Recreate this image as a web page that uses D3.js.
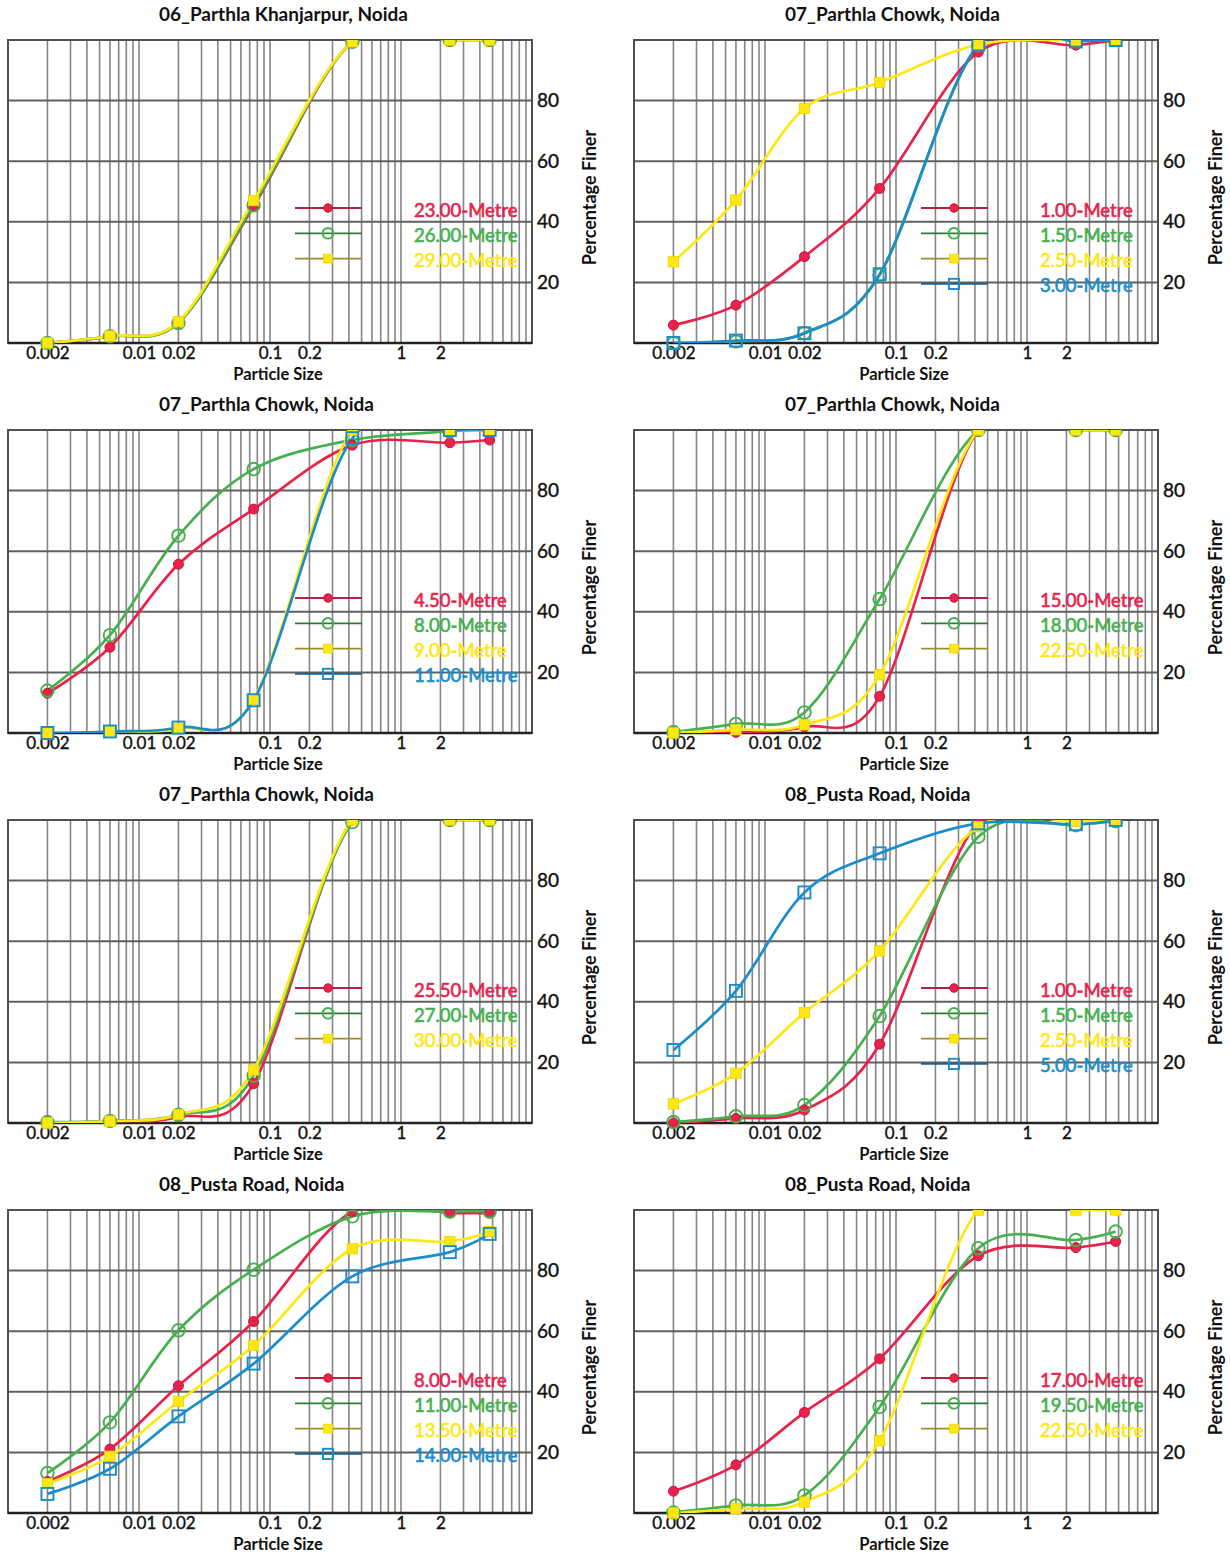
<!DOCTYPE html>
<html>
<head>
<meta charset="utf-8">
<script src="https://cdn.jsdelivr.net/npm/d3@7"></script>
<style>
  html, body { margin: 0; padding: 0; background: #fff; }
  svg { display: block; font-family: Lato, "Open Sans", sans-serif; }
</style>
</head>
<body>
<svg id="chart" width="1230" height="1554"></svg>
<script>
// Sieve / hydrometer particle sizes (mm)
const particleSizes = [0.002, 0.006, 0.02, 0.075, 0.425, 2.36, 4.75];

const xTickValues = [0.002, 0.01, 0.02, 0.1, 0.2, 1, 2];
const yTickValues = [20, 40, 60, 80];

const panelTitles = [
  "06_Parthla Khanjarpur, Noida",
  "07_Parthla Chowk, Noida",
  "07_Parthla Chowk, Noida",
  "07_Parthla Chowk, Noida",
  "07_Parthla Chowk, Noida",
  "08_Pusta Road, Noida",
  "08_Pusta Road, Noida",
  "08_Pusta Road, Noida"
];

const panelDepths = [
  ["23.00-Metre", "26.00-Metre", "29.00-Metre"],
  ["1.00-Metre", "1.50-Metre", "2.50-Metre", "3.00-Metre"],
  ["4.50-Metre", "8.00-Metre", "9.00-Metre", "11.00-Metre"],
  ["15.00-Metre", "18.00-Metre", "22.50-Metre"],
  ["25.50-Metre", "27.00-Metre", "30.00-Metre"],
  ["1.00-Metre", "1.50-Metre", "2.50-Metre", "5.00-Metre"],
  ["8.00-Metre", "11.00-Metre", "13.50-Metre", "14.00-Metre"],
  ["17.00-Metre", "19.50-Metre", "22.50-Metre"]
];

// Percentage finer per depth, one value per particle size
const finerKhanjarpur = [
  [0, 2.2, 6.8, 45, 99.4, 100, 100],
  [0, 2.2, 6.6, 45.5, 99.4, 100, 100],
  [0, 2.3, 7.0, 47, 99.4, 100, 100]
];
const finerChowkShallow = [
  [5.9, 12.5, 28.5, 51, 96, 98.3, 100],
  [0, 0.5, 3.3, 22.4, 98.3, 100, 100],
  [26.8, 47.2, 77.4, 86, 98.5, 100, 100],
  [0, 0.8, 3.2, 22.7, 98.5, 99.5, 100]
];
const finerChowkMid = [
  [13.1, 28.3, 55.7, 73.9, 95, 95.8, 96.7],
  [14, 32.3, 65.1, 87.1, 96.7, 99.5, 100],
  [0, 0.5, 1.5, 11.1, 100, 100, 100],
  [0, 0.5, 1.8, 10.8, 97.3, 100, 100]
];
const finerChowkDeep = [
  [0, 0.2, 2, 12.1, 100, 100, 100],
  [0.3, 3, 6.8, 44.2, 100, 100, 100],
  [0, 1.1, 2.7, 19.2, 100, 100, 100]
];
const finerChowkDeepest = [
  [0, 0.5, 2, 13, 100, 100, 100],
  [0.3, 0.7, 2.7, 15.6, 99.3, 100, 100],
  [0, 0.6, 2.8, 17.5, 100, 100, 100]
];
const finerPustaShallow = [
  [0, 1.5, 4.3, 26, 99.5, 100, 100],
  [0.3, 2.2, 5.9, 35.3, 94.5, 98.3, 99.6],
  [6.3, 16.4, 36.4, 56.8, 97.8, 99.5, 100],
  [24.1, 43.6, 76.1, 89, 98.9, 98.6, 100]
];
const finerPustaMid = [
  [10.4, 21.1, 42, 63.2, 99.5, 99, 99],
  [13.2, 29.9, 60.3, 80.3, 97.9, 99.5, 99.5],
  [9.7, 18.7, 36.8, 55.3, 87.2, 89.6, 92.9],
  [6.3, 14.6, 31.9, 49.3, 78.1, 86.1, 92.1]
];
const finerPustaDeep = [
  [7.2, 15.9, 33.2, 50.9, 84.9, 87.6, 89.6],
  [0.2, 2.5, 5.8, 35, 87.4, 90.1, 92.9],
  [0, 1.4, 3.6, 23.9, 100, 100, 100]
];

const panelValues = [
  finerKhanjarpur, finerChowkShallow, finerChowkMid, finerChowkDeep,
  finerChowkDeepest, finerPustaShallow, finerPustaMid, finerPustaDeep
];

// Series styling, in drawing order
const seriesColors = ["#e8224b", "#46b04e", "#ffe714", "#1b8ccc"];
const legendLineColors = ["#b3223f", "#2e7a3b", "#9a8f2a", "#1e5f8e"];
const markerKinds = ["dot", "ring", "block", "box"];

const svg = d3.select("#chart");

const plotW = 524, plotH = 303;
const colLeft = [8, 634];
const rowTop = [40, 430, 820, 1210];

const x = d3.scaleLog().domain([0.001, 10]).range([0, plotW]);
const y = d3.scaleLinear().domain([0, 100]).range([plotH, 0]);

const line = d3.line()
  .x(d => x(d[0]))
  .y(d => y(d[1]))
  .curve(d3.curveCatmullRom.alpha(0));

function drawMarker(sel, kind, color, scale) {
  const s = scale || 1;
  if (kind === "dot") {
    sel.append("circle").attr("r", 5 * s)
      .attr("fill", color).attr("stroke", "#c8143c").attr("stroke-width", 1);
  } else if (kind === "ring") {
    sel.append("circle").attr("r", 6.3 * s)
      .attr("fill", "none").attr("stroke", color).attr("stroke-width", 1.9);
  } else if (kind === "block") {
    const h = 5.2 * s;
    sel.append("rect").attr("x", -h).attr("y", -h).attr("width", 2 * h).attr("height", 2 * h)
      .attr("fill", color).attr("stroke", "#f0d400").attr("stroke-width", 0.8);
  } else {
    const h = 6 * s;
    sel.append("rect").attr("x", -h).attr("y", -h).attr("width", 2 * h).attr("height", 2 * h)
      .attr("fill", "none").attr("stroke", color).attr("stroke-width", 1.9);
  }
}

// slightly heavier glyphs for the regular-weight labels
function thicken(sel, color, w) {
  sel.attr("stroke", color).attr("stroke-width", w).attr("paint-order", "stroke");
}

panelValues.forEach((series, i) => {
  const col = i % 2, row = Math.floor(i / 2);
  const g = svg.append("g")
    .attr("transform", `translate(${colLeft[col]},${rowTop[row]})`);

  // clip for curves (plot area) and for markers (only the top edge)
  const defs = g.append("defs");
  defs.append("clipPath").attr("id", `plotclip${i}`)
    .append("rect").attr("x", 0).attr("y", 0).attr("width", plotW).attr("height", plotH);
  defs.append("clipPath").attr("id", `markclip${i}`)
    .append("rect").attr("x", -20).attr("y", 0).attr("width", plotW + 40).attr("height", plotH + 20);

  // vertical log grid
  g.append("g").selectAll("line")
    .data(x.ticks())
    .join("line")
    .attr("x1", d => x(d)).attr("x2", d => x(d))
    .attr("y1", 0).attr("y2", plotH)
    .attr("stroke", "#858585").attr("stroke-width", 1.6);

  // horizontal grid
  g.append("g").selectAll("line")
    .data(yTickValues)
    .join("line")
    .attr("x1", 0).attr("x2", plotW)
    .attr("y1", d => y(d)).attr("y2", d => y(d))
    .attr("stroke", "#606060").attr("stroke-width", 2);

  // frame
  g.append("rect").attr("x", 0).attr("y", 0).attr("width", plotW).attr("height", plotH)
    .attr("fill", "none").attr("stroke", "#505050").attr("stroke-width", 2);
  g.append("line").attr("x1", 0).attr("x2", plotW).attr("y1", plotH).attr("y2", plotH)
    .attr("stroke", "#222").attr("stroke-width", 2.5);

  // axes
  const xAxis = g.append("g").attr("transform", `translate(0,${plotH})`)
    .call(d3.axisBottom(x).tickValues(xTickValues).tickSize(0).tickPadding(4)
      .tickFormat(d => String(d)));
  xAxis.select(".domain").remove();
  xAxis.selectAll("text").attr("font-size", 17).attr("fill", "#111")
    .attr("font-family", "Lato, 'Open Sans', sans-serif")
    .call(thicken, "#111", 0.4);

  const yAxis = g.append("g").attr("transform", `translate(${plotW},0)`)
    .call(d3.axisRight(y).tickValues(yTickValues).tickSize(0).tickPadding(5));
  yAxis.select(".domain").remove();
  yAxis.selectAll("text").attr("font-size", 19).attr("fill", "#111")
    .attr("font-family", "Lato, 'Open Sans', sans-serif")
    .call(thicken, "#111", 0.4);

  // titles
  g.append("text").attr("x", 151).attr("y", -19)
    .attr("font-size", 19).attr("font-weight", 700).attr("fill", "#111")
    .text(panelTitles[i]);
  g.append("text").attr("x", 270).attr("y", plotH + 37)
    .attr("text-anchor", "middle")
    .attr("font-size", 16.5).attr("font-weight", 700).attr("fill", "#111")
    .text("Particle Size");
  g.append("text")
    .attr("transform", `translate(${plotW + 64},${plotH / 2 + 6}) rotate(-90)`)
    .attr("text-anchor", "middle")
    .attr("font-size", 18).attr("font-weight", 700).attr("fill", "#111")
    .text("Percentage Finer");

  // curves
  const curves = g.append("g").attr("clip-path", `url(#plotclip${i})`);
  const marks = g.append("g").attr("clip-path", `url(#markclip${i})`);
  series.forEach((vals, k) => {
    const pts = particleSizes.map((s, j) => [s, vals[j]]);
    curves.append("path").datum(pts)
      .attr("d", line)
      .attr("fill", "none")
      .attr("stroke", seriesColors[k])
      .attr("stroke-width", 2.7)
      .attr("stroke-linejoin", "round");
  });
  series.forEach((vals, k) => {
    const pts = particleSizes.map((s, j) => [s, vals[j]]);
    marks.append("g").selectAll("g")
      .data(pts)
      .join("g")
      .attr("transform", d => `translate(${x(d[0])},${y(d[1])})`)
      .each(function () { drawMarker(d3.select(this), markerKinds[k], seriesColors[k]); });
  });

  // legend
  const legend = g.append("g");
  panelDepths[i].forEach((label, k) => {
    const ly = 168 + k * 25.3;
    const item = legend.append("g").attr("transform", `translate(0,${ly})`);
    item.append("line").attr("x1", 287).attr("x2", 354).attr("y1", 0).attr("y2", 0)
      .attr("stroke", legendLineColors[k]).attr("stroke-width", 1.8);
    const m = item.append("g").attr("transform", "translate(320,0)");
    drawMarker(m, markerKinds[k], seriesColors[k], 0.85);
    item.append("text").attr("x", 406).attr("y", 8.5)
      .attr("font-size", 18.5).attr("fill", seriesColors[k])
      .call(thicken, seriesColors[k], 0.6)
      .text(label);
  });
});
</script>
</body>
</html>
